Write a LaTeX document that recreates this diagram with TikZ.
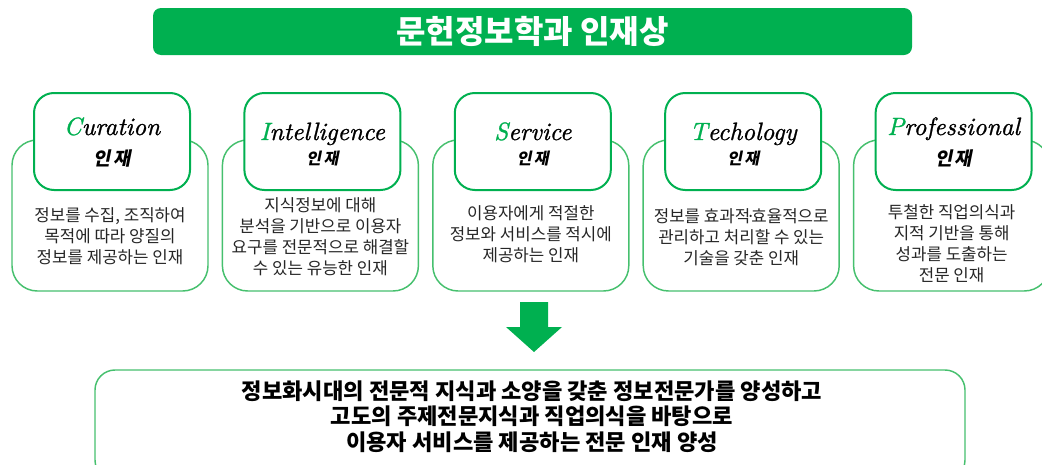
\documentclass[tikz,border=0pt]{standalone}
\usepackage{fontspec}
\newfontfamily\kr{Noto Sans CJK KR}
\newfontfamily\krsl[FakeSlant=0.2]{Noto Sans CJK KR}
\newfontfamily\enit[FakeBold=1]{lmroman10-italic.otf}
\definecolor{hgreen}{RGB}{0,176,80}
\definecolor{lgreen}{RGB}{70,192,110}

\begin{document}
\begin{tikzpicture}[x=0.75pt,y=-0.75pt,
	banner/.style={fill=hgreen,rounded corners=6pt,minimum width=569.25pt,minimum height=35.25pt,text=white,font=\kr\bfseries\fontsize{24}{28}\selectfont},
	card/.style={draw=lgreen,line width=1.1pt,fill=white,rounded corners=19pt,minimum width=147pt,minimum height=113.25pt},
	head/.style={draw=hgreen,line width=1.5pt,fill=white,rounded corners=15pt,minimum width=117pt,minimum height=72.75pt},
	desc/.style={font=\kr\fontsize{12.6}{15.8}\selectfont,align=center,text=black!85,inner sep=0pt},
	ename/.style={font=\enit\fontsize{18.8}{20}\selectfont,inner sep=0pt,anchor=base}]
\useasboundingbox (0,0) rectangle (1042,464);
\node[banner] (banner) at (532.5,31.5) {문헌정보학과 인재상};
\foreach \i/\first/\rest/\ey/\ks/\dy/\desc in {
	0/C/uration/135/14/236/{정보를 수집, 조직하여\\목적에 따라 양질의\\정보를 제공하는 인재},
	1/I/ntelligence/140/12/236.5/{지식정보에 대해\\분석을 기반으로 이용자\\요구를 전문적으로 해결할\\수 있는 유능한 인재},
	2/S/ervice/140/12/234/{이용자에게 적절한\\정보와 서비스를 적시에\\제공하는 인재},
	3/T/echology/140/12/237/{정보를 효과적\kern-0.25em·\kern-0.25em효율적으로\\관리하고 처리할 수 있는\\기술을 갖춘 인재},
	4/P/rofessional/135/14/243.5/{투철한 직업의식과\\지적 기반을 통해\\성과를 도출하는\\전문 인재}}
{
	\pgfmathsetmacro\x{110+210.4*\i}
	\node[card] (card\i) at (\x,215.5) {};
	\node[head] (head\i) at (\x+2,141.5) {};
	\node[ename] (en\i) at (\x+2,\ey) {\textcolor{hgreen}{\first}\rest};
	\node[font=\krsl\bfseries\fontsize{\ks}{\ks}\selectfont,inner sep=0pt] (kr\i) at (\x+2,158) {인\hspace{0.15em}재};
	\node[desc] (desc\i) at (\x,\dy) {\desc};
}
% arrow down to the goal
\fill[hgreen] (520,302) -- (548,302) -- (548,327) -- (562,327) -- (534,352) -- (506,327) -- (520,327) -- cycle;
\node[card,minimum width=652.5pt,minimum height=82.5pt,rounded corners=15pt] (goal) at (530,425) {};
\node[font=\kr\bfseries\fontsize{16.6}{19.1}\selectfont,align=center,inner sep=0pt] (goaltext) at (532,416.5)
	{정보화시대의 전문적 지식과 소양을 갖춘 정보전문가를 양성하고\\고도의 주제전문지식과 직업의식을 바탕으로\\이용자 서비스를 제공하는 전문 인재 양성};
\end{tikzpicture}
\end{document}
